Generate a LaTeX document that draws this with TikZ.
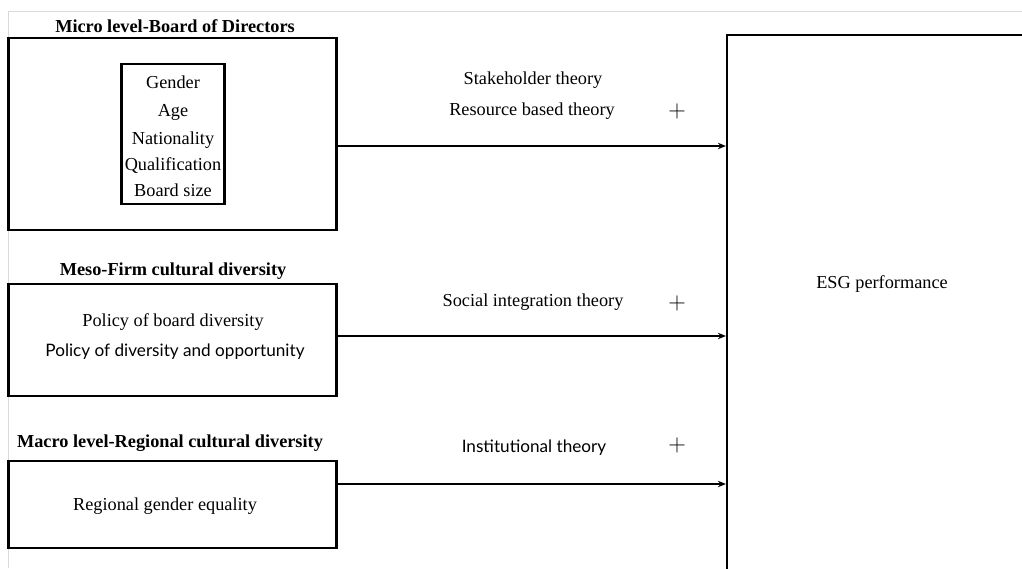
\documentclass[tikz,border=0pt]{standalone}
\usepackage{fontspec}
\setmainfont{Liberation Serif}
\setsansfont{Lato}
\usetikzlibrary{positioning,arrows.meta,calc}

\begin{document}
\begin{tikzpicture}[x=0.025cm,y=-0.025cm,font=\fontsize{13}{15}\selectfont,>={Stealth[length=2mm,width=1.6mm]},
  lvl/.style={rectangle,draw=black,line width=1.5pt,minimum width=8.2cm,inner sep=0pt},
  ttl/.style={font=\fontsize{13}{15}\selectfont\bfseries,inner sep=1pt},
  txt/.style={inner sep=1pt},
  sans/.style={font=\fontsize{12.2}{15}\sffamily,inner sep=1pt},
  pls/.style={font=\fontsize{17}{17}\selectfont,inner sep=1pt},
  ar/.style={->,line width=1.1pt,black}]
\clip (0,0) rectangle (1022,568);
\fill[white] (0,0) rectangle (1022,568);
% faint page frame
\draw[black!15,line width=0.6pt] (8,568) -- (8,11) -- (1022,11);
% left column: three levels
\node[ttl](tmicro) at (175,26){Micro level-Board of Directors};
\node[lvl,minimum height=4.8cm](micro) at (172.5,134){};
\node[draw=black,line width=1.7pt,minimum width=2.57cm,minimum height=3.5cm,inner sep=1pt](attr) at (173,134){};
\node[txt](g1) at (173,82){Gender};
\node[txt](g2) at (173,112){Age};
\node[txt](g3) at (173,140){Nationality};
\node[txt](g4) at (173,166){Qualification};
\node[txt](g5) at (173,190){Board size};

\node[ttl](tmeso) at (173,271){Meso-Firm cultural diversity};
\node[lvl,minimum height=2.8cm](meso) at (172.5,340){};
\node[txt](p1) at (173,322){Policy of board diversity};
\node[sans](p2) at (175,352){Policy of diversity and opportunity};

\node[ttl](tmacro) at (170,443){Macro level-Regional cultural diversity};
\node[lvl,minimum height=2.175cm](macro) at (172.5,504.5){};
\node[txt](r1) at (165,506){Regional gender equality};

% outcome box (runs off the page)
\node[rectangle,draw=black,line width=1.5pt,minimum width=8cm,minimum height=14.5cm,inner sep=0pt](esg) at (887,325){};
\node[txt](esgt) at (882,284){ESG performance};

% theories
\node[txt](st) at (533,80){Stakeholder theory};
\node[txt](rb) at (532,111){Resource based theory};
\node[pls](pl1) at (677,111){$+$};
\node[txt](si) at (533,302){Social integration theory};
\node[pls](pl2) at (677,303){$+$};
\node[sans](it) at (534,448){Institutional theory};
\node[pls](pl3) at (677,445){$+$};

\draw[ar](micro.east|-0,146)--(esg.west|-0,146);
\draw[ar](meso.east|-0,336)--(esg.west|-0,336);
\draw[ar](macro.east|-0,484)--(esg.west|-0,484);
\end{tikzpicture}
\end{document}
